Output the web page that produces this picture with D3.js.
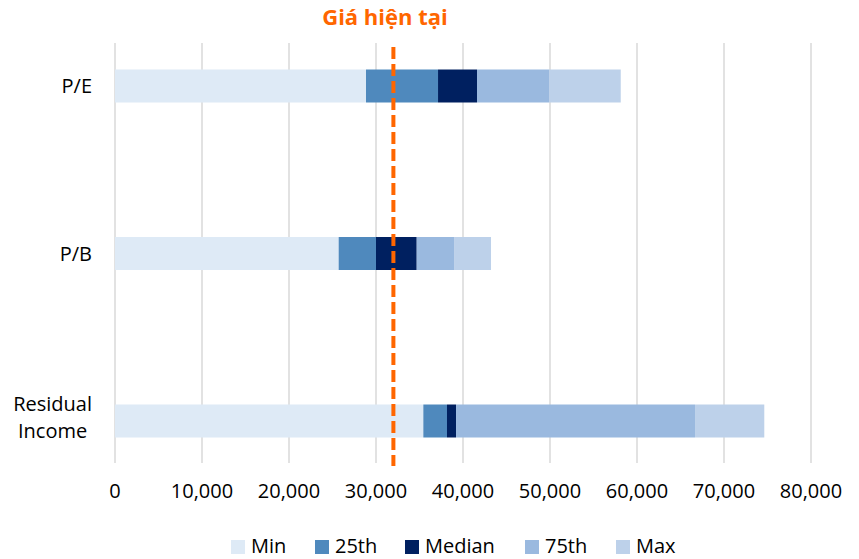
<!DOCTYPE html>
<html><head><meta charset="utf-8">
<script src="https://cdn.jsdelivr.net/npm/d3@7"></script>
<style>body{margin:0;background:#fff}svg{display:block}</style>
</head><body>
<svg id="c" width="859" height="559"></svg>
<script>
const categories = ["P/E", "P/B", "Residual Income"];
const seriesNames = ["Min", "25th", "Median", "75th", "Max"];
const minVals    = [28850, 25710, 35440];
const p25Vals    = [37130, 30000, 38160];
const medianVals = [41610, 34680, 39200];
const p75Vals    = [49890, 38970, 66670];
const maxVals    = [58130, 43220, 74630];
const colors = ["#DEEAF6", "#4F89BD", "#002060", "#9AB9DF", "#BDD1EA"];
const currentPrice = 32000;
const currentLabel = "Giá hiện tại";
const xTicks = [0, 10000, 20000, 30000, 40000, 50000, 60000, 70000, 80000];

const svg = d3.select("#c");
const font = "'Open Sans', sans-serif";
const x = d3.scaleLinear().domain([0, 80000]).range([115, 811]);
const y = d3.scalePoint().domain(categories).range([86, 421]);
const barH = 33;
const gridTop = 43, gridBottom = 463;

// gridlines
svg.append("g").selectAll("line").data(xTicks).join("line")
  .attr("x1", d => x(d)).attr("x2", d => x(d))
  .attr("y1", gridTop).attr("y2", gridBottom)
  .attr("stroke", "#D9D9D9").attr("stroke-width", 1.5);

// tick labels
svg.append("g").selectAll("text").data(xTicks).join("text")
  .attr("x", d => x(d)).attr("y", 498)
  .attr("text-anchor", "middle")
  .attr("font-family", font).attr("font-size", 20).attr("fill", "#000")
  .text(d => d3.format(",")(d));

// stacked bars
const cumul = [minVals, p25Vals, medianVals, p75Vals, maxVals];
const segs = [];
categories.forEach((c, i) => {
  cumul.forEach((arr, s) => {
    const start = s === 0 ? 0 : cumul[s - 1][i];
    segs.push({cat: c, s, x0: start, x1: arr[i]});
  });
});
svg.append("g").selectAll("rect").data(segs).join("rect")
  .attr("x", d => x(d.x0)).attr("width", d => x(d.x1) - x(d.x0))
  .attr("y", d => y(d.cat) - barH / 2).attr("height", barH)
  .attr("fill", d => colors[d.s]);

// category labels
const labG = svg.append("g");
categories.forEach(c => {
  const words = c.split(" ");
  const n = words.length;
  if (n === 1) {
    labG.append("text")
      .attr("font-family", font).attr("font-size", 20).attr("fill", "#000")
      .attr("x", 92).attr("y", y(c) + 7).attr("text-anchor", "end").text(c);
  } else {
    const lineH = 27;
    const texts = words.map((w, k) => labG.append("text")
      .attr("font-family", font).attr("font-size", 20).attr("fill", "#000")
      .attr("y", y(c) + 3 - (n - 1) * lineH / 2 + k * lineH).text(w));
    const maxW = d3.max(texts, t => t.node().getComputedTextLength());
    const cx = 92 - maxW / 2;
    texts.forEach(t => t.attr("x", cx).attr("text-anchor", "middle"));
  }
});

// current price line
svg.append("line")
  .attr("x1", x(currentPrice)).attr("x2", x(currentPrice))
  .attr("y1", 47).attr("y2", 466)
  .attr("stroke", "#FF6600").attr("stroke-width", 4)
  .attr("stroke-dasharray", "12,5");
svg.append("text")
  .attr("x", 385).attr("y", 25).attr("text-anchor", "middle")
  .attr("font-family", font).attr("font-size", 22).attr("font-weight", "bold")
  .attr("fill", "#FF6600").text(currentLabel);

// legend
const legX = [231, 315, 405, 525, 616];
const lg = svg.append("g").selectAll("g").data(seriesNames).join("g")
  .attr("transform", (d, i) => `translate(${legX[i]},540)`);
lg.append("rect").attr("width", 14).attr("height", 14).attr("fill", (d, i) => colors[i]);
lg.append("text").attr("x", 20).attr("y", 13)
  .attr("font-family", font).attr("font-size", 20).attr("fill", "#000")
  .text(d => d);
</script>
</body></html>
